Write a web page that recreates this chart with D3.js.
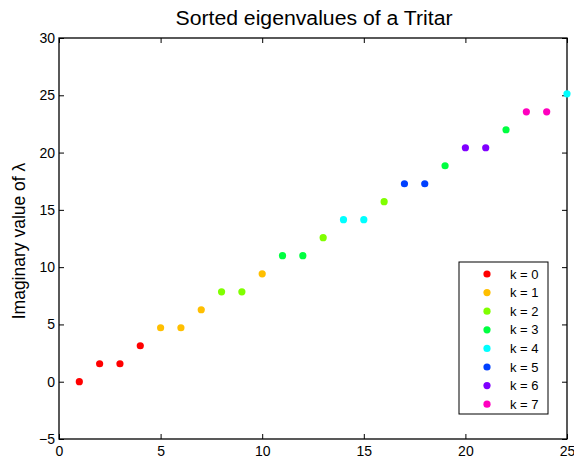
<!DOCTYPE html>
<html>
<head>
<meta charset="utf-8">
<script src="https://cdn.jsdelivr.net/npm/d3@7"></script>
<style>
  body { margin: 0; background: #fff; }
  svg text { font-family: "Liberation Sans", Arial, Helvetica, sans-serif; fill: #000; }
</style>
</head>
<body>
<figure id="chart" style="margin:0"></figure>
<script>
// index of each eigenvalue (sorted)
var xs = [1, 2, 3, 4, 5, 6, 7, 8, 9, 10, 11, 12, 13, 14, 15, 16, 17, 18, 19, 20, 21, 22, 23, 24, 25];
// imaginary part
var imagVals = [0, 1.57, 1.57, 3.14, 4.71, 4.71, 6.28, 7.85, 7.85, 9.42, 11.0, 11.0, 12.57,
  14.14, 14.14, 15.71, 17.28, 17.28, 18.85, 20.42, 20.42, 21.99, 23.56, 23.56, 25.13];
// which k each point belongs to
var kVals = [0, 0, 0, 0, 1, 1, 1, 2, 2, 1, 3, 3, 2, 4, 4, 2, 5, 5, 3, 6, 6, 3, 7, 7, 4];
var legendLabels = ["k = 0", "k = 1", "k = 2", "k = 3", "k = 4", "k = 5", "k = 6", "k = 7"];
var kColors = ["#ff0000", "#ffbf00", "#80ff00", "#00ff40", "#00ffff", "#0040ff", "#8000ff", "#ff00bf"];
var xTicks = [0, 5, 10, 15, 20, 25];
var yTicks = [-5, 0, 5, 10, 15, 20, 25, 30];

var width = 574, height = 460;
var margin = { top: 38, right: 7, bottom: 21, left: 59 };
var innerW = width - margin.left - margin.right;
var innerH = height - margin.top - margin.bottom;

var svg = d3.select("#chart").append("svg")
  .attr("width", width)
  .attr("height", height);

var g = svg.append("g")
  .attr("transform", `translate(${margin.left},${margin.top})`);

var xScale = d3.scaleLinear().domain([0, 25]).range([0, innerW]);
var yScale = d3.scaleLinear().domain([-5, 30]).range([innerH, 0]);

var tickLen = 5;

// bottom axis (ticks point inward)
g.append("g")
  .attr("transform", `translate(0,${innerH})`)
  .call(d3.axisBottom(xScale).tickValues(xTicks).tickSize(-tickLen).tickPadding(7))
  .call(a => a.select(".domain").remove())
  .selectAll("text").style("font-size", "14px");

// top axis, ticks only
g.append("g")
  .call(d3.axisTop(xScale).tickValues(xTicks).tickSize(-tickLen).tickFormat(""))
  .call(a => a.select(".domain").remove());

// left axis
g.append("g")
  .call(d3.axisLeft(yScale).tickValues(yTicks).tickSize(-tickLen).tickPadding(4)
    .tickFormat(d => d < 0 ? "\u2212" + Math.abs(d) : d))
  .call(a => a.select(".domain").remove())
  .selectAll("text").style("font-size", "14px");

// right axis, ticks only
g.append("g")
  .attr("transform", `translate(${innerW},0)`)
  .call(d3.axisRight(yScale).tickValues(yTicks).tickSize(-tickLen).tickFormat(""))
  .call(a => a.select(".domain").remove());

g.selectAll(".tick line").attr("stroke", "#000");

// box around the axes
g.append("rect")
  .attr("width", innerW)
  .attr("height", innerH)
  .attr("fill", "none")
  .attr("stroke", "#000")
  .attr("stroke-width", 1.3);

// points
g.selectAll("circle.pt")
  .data(xs)
  .enter()
  .append("circle")
  .attr("class", "pt")
  .attr("cx", d => xScale(d))
  .attr("cy", (d, i) => yScale(imagVals[i]))
  .attr("r", 3.6)
  .attr("fill", (d, i) => kColors[kVals[i]]);

// title
svg.append("text")
  .attr("x", 314)
  .attr("y", 25)
  .attr("text-anchor", "middle")
  .attr("textLength", 277)
  .attr("lengthAdjust", "spacingAndGlyphs")
  .style("font-size", "19.5px")
  .text("Sorted eigenvalues of a Tritar");

// y label
svg.append("text")
  .attr("transform", "translate(25,241) rotate(-90)")
  .attr("text-anchor", "middle")
  .style("font-size", "17.5px")
  .text("Imaginary value of \u03bb");

// legend
var legend = svg.append("g").attr("transform", "translate(459,262)");
legend.append("rect")
  .attr("width", 89)
  .attr("height", 152)
  .attr("fill", "#fff")
  .attr("stroke", "#000")
  .attr("stroke-width", 1);

var rows = legend.selectAll("g.row")
  .data(legendLabels)
  .enter()
  .append("g")
  .attr("class", "row")
  .attr("transform", (d, i) => `translate(0,${12 + i * 18.6})`);

rows.append("circle")
  .attr("cx", 28)
  .attr("r", 3.6)
  .attr("fill", (d, i) => kColors[i]);

rows.append("text")
  .attr("x", 51)
  .attr("dy", "0.36em")
  .style("font-size", "13px")
  .text(d => d);
</script>
</body>
</html>
